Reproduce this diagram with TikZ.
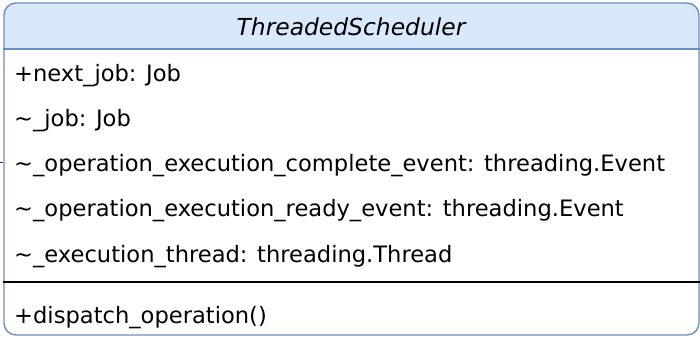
\documentclass[tikz,border=0pt]{standalone}
\usepackage{fontspec}
\setmainfont{DejaVu Sans}
\definecolor{hdrfill}{HTML}{DAE8FC}
\definecolor{hdrline}{HTML}{6C8EBF}
\tikzset{
  member/.style={anchor=west, inner sep=0pt, font=\fontsize{22.6}{26}\selectfont},
  classbox/.style={draw=hdrline, line width=1.4pt, rounded corners=12pt, inner sep=0pt},
}

\begin{document}
\begin{tikzpicture}[x=1pt,y=-1pt]
\useasboundingbox (0,0) rectangle (700,338);

% header band, top corners rounded only
\begin{scope}
  \clip (0,0) rectangle (700,49);
  \fill[hdrfill, rounded corners=12pt] (4,3) rectangle (699,335);
\end{scope}

% class outline
\node[classbox, minimum width=695pt, minimum height=332pt] (sched) at (351.5,169) {};
\draw[hdrline, line width=1.4pt] (sched.west |- 0,49) -- (sched.east |- 0,49);
\draw[line width=1.2pt] (sched.west |- 0,282) -- (sched.east |- 0,282);

% name
\node[font=\fontsize{23.4}{27}\selectfont\itshape] (title) at (351,27) {ThreadedScheduler};

% attributes
\node[member] (a1) at (14,76) {+next\_job: Job};
\node[member] (a2) at (14,121) {\textasciitilde\_job: Job};
\node[member] (a3) at (14,166) {\textasciitilde\_operation\_execution\_complete\_event: threading.Event};
\node[member] (a4) at (14,211) {\textasciitilde\_operation\_execution\_ready\_event: threading.Event};
\node[member] (a5) at (14,257) {\textasciitilde\_execution\_thread: threading.Thread};

% methods
\node[member] (m1) at (14,318) {+dispatch\_operation()};

% incoming link stub
\coordinate (link) at (0,162);
\draw[black!80, line width=1pt] (link) -- (link -| sched.west);
\end{tikzpicture}
\end{document}
